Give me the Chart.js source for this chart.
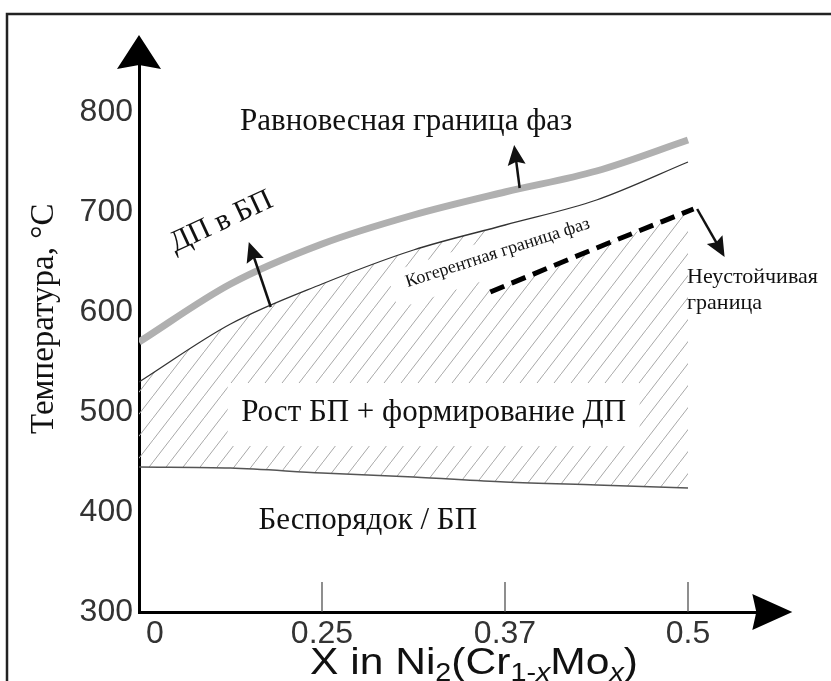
<!DOCTYPE html>
<html>
<head>
<meta charset="utf-8">
<script src="https://cdn.jsdelivr.net/npm/chart.js@4.4.0/dist/chart.umd.min.js"></script>
<style>
html, body { margin: 0; padding: 0; background: #fff; }
</style>
</head>
<body>
<canvas id="chart" width="831" height="681"></canvas>
<script>
// x values are tick positions: 0 -> "0", 1 -> "0.25", 2 -> "0.37", 3 -> "0.5"
var xTickLabels = ['0', '0.25', '0.37', '0.5'];
var yTicks = [300, 400, 500, 600, 700, 800];

var xGrid = [0, 0.5, 1, 1.5, 2, 2.5, 3];
var equilibrium = [570, 628, 668, 697, 720, 741, 772];
var coherent = [530, 588, 628, 662, 687, 712, 750];
var disorder = [445, 444, 439, 435, 430, 427, 424];

var spinodalX = [1.92, 2.5, 3.03];
var spinodal = [620, 664, 703];

// annotation arrows, [x0, y0, x1, y1] in data units
var arrows = [
  [0.72, 605, 0.6, 670],
  [2.08, 724, 2.05, 767],
  [3.05, 703, 3.2, 655]
];

var serif = 'Liberation Serif';
var sans = 'Liberation Sans';

function pts(xs, ys) {
  return ys.map(function(v, i) { return {x: xs[i], y: v}; });
}

function hatchPattern() {
  var c = document.createElement('canvas');
  c.width = 17; c.height = 22;
  var g = c.getContext('2d');
  g.strokeStyle = '#a8a8a8';
  g.lineWidth = 1;
  g.beginPath();
  g.moveTo(-1.7, 24.2);
  g.lineTo(18.7, -2.2);
  g.stroke();
  return g.createPattern(c, 'repeat');
}

function head(ctx, x0, y0, x1, y1, len, half, notch) {
  var a = Math.atan2(y1 - y0, x1 - x0);
  ctx.save();
  ctx.translate(x1, y1);
  ctx.rotate(a);
  ctx.beginPath();
  ctx.moveTo(0, 0);
  ctx.lineTo(-len, -half);
  ctx.lineTo(-len + notch, 0);
  ctx.lineTo(-len, half);
  ctx.closePath();
  ctx.fill();
  ctx.restore();
}

function px(chart, x, y) {
  return [chart.scales.x.getPixelForValue(x), chart.scales.y.getPixelForValue(y)];
}

function rotBox(ctx, cx, cy, ang, x0, y0, x1, y1) {
  ctx.save();
  ctx.translate(cx, cy);
  ctx.rotate(ang * Math.PI / 180);
  ctx.fillStyle = '#fff';
  ctx.fillRect(x0, y0, x1 - x0, y1 - y0);
  ctx.restore();
}

function text(ctx, str, cx, cy, size, ang, align, family) {
  ctx.save();
  ctx.translate(cx, cy);
  ctx.rotate((ang || 0) * Math.PI / 180);
  ctx.font = size + 'px "' + (family || serif) + '"';
  ctx.fillStyle = '#111';
  ctx.textAlign = align || 'center';
  ctx.textBaseline = 'middle';
  ctx.fillText(str, 0, 0);
  ctx.restore();
}

var decor = {
  id: 'decor',
  beforeDatasetDraw: function(chart, args) {
    if (args.index !== 1) return;
    var ctx = chart.ctx;
    var area = chart.chartArea;
    // clear hatch above the dashed boundary
    var d = chart.getDatasetMeta(3).data;
    ctx.save();
    ctx.fillStyle = '#fff';
    ctx.beginPath();
    ctx.moveTo(d[0].x, d[0].y);
    for (var i = 1; i < d.length; i++) ctx.lineTo(d[i].x, d[i].y);
    ctx.lineTo(d[d.length - 1].x + 4, area.top);
    ctx.lineTo(d[0].x, area.top);
    ctx.closePath();
    ctx.fill();
    ctx.restore();
    var p = px(chart, 1.96, 659);
    rotBox(ctx, p[0], p[1], -18, -112, -15, 104, 22);
    p = px(chart, 1.61, 499);
    rotBox(ctx, p[0], p[1], 0, -206, -30, 206, 33);
  },
  afterDraw: function(chart) {
    var ctx = chart.ctx;
    var area = chart.chartArea;
    var sx = chart.scales.x, sy = chart.scales.y;
    ctx.save();
    // frame
    ctx.strokeStyle = '#222';
    ctx.lineWidth = 2.5;
    ctx.strokeRect(7, 14, 900, 800);
    // axis arrows
    ctx.strokeStyle = '#000';
    ctx.fillStyle = '#000';
    ctx.lineWidth = 3;
    var yTip = sy.getPixelForValue(877);
    ctx.beginPath();
    ctx.moveTo(area.left, area.top + 2);
    ctx.lineTo(area.left, yTip + 20);
    ctx.stroke();
    head(ctx, area.left, area.bottom, area.left, yTip, 34, 22, 4);
    var xTip = sx.getPixelForValue(3.57);
    head(ctx, area.left, area.bottom, xTip, area.bottom, 40, 18, 4);
    // inner tick marks
    ctx.strokeStyle = '#444';
    ctx.lineWidth = 1.2;
    for (var i = 1; i < xTickLabels.length; i++) {
      var tx = sx.getPixelForValue(i);
      ctx.beginPath();
      ctx.moveTo(tx, area.bottom);
      ctx.lineTo(tx, area.bottom - 30);
      ctx.stroke();
    }
    // annotation arrows
    ctx.strokeStyle = '#111';
    ctx.fillStyle = '#111';
    ctx.lineWidth = 2.5;
    arrows.forEach(function(a) {
      var p0 = px(chart, a[0], a[1]), p1 = px(chart, a[2], a[3]);
      var ang = Math.atan2(p1[1] - p0[1], p1[0] - p0[0]);
      ctx.beginPath();
      ctx.moveTo(p0[0], p0[1]);
      ctx.lineTo(p1[0] - 14 * Math.cos(ang), p1[1] - 14 * Math.sin(ang));
      ctx.stroke();
      head(ctx, p0[0], p0[1], p1[0], p1[1], 20, 9, 3);
    });
    ctx.restore();

    // labels
    var p = px(chart, 1.46, 790);
    text(ctx, 'Равновесная граница фаз', p[0], p[1], 31);
    p = px(chart, 0.45, 690);
    text(ctx, 'ДП в БП', p[0], p[1], 30, -25);
    p = px(chart, 1.96, 659);
    text(ctx, 'Когерентная граница фаз', p[0], p[1], 18, -18);
    p = px(chart, 2.995, 635);
    text(ctx, 'Неустойчивая', p[0], p[1], 22, 0, 'left');
    p = px(chart, 2.995, 609);
    text(ctx, 'граница', p[0], p[1], 22, 0, 'left');
    p = px(chart, 1.61, 499);
    text(ctx, 'Рост БП + формирование ДП', p[0], p[1], 31);
    p = px(chart, 1.25, 391);
    text(ctx, 'Беспорядок / БП', p[0], p[1], 31);

    // x axis title with subscripts, slightly widened like the source
    var parts = [['X in Ni', 0], ['2', 1], ['(Cr', 0], ['1-', 1], ['x', 2], ['Mo', 0], ['x', 2], [')', 0]];
    var big = '37px "' + sans + '"', small = '25px "' + sans + '"', smallIt = 'italic 25px "' + sans + '"';
    var stretch = 1.15;
    ctx.save();
    ctx.fillStyle = '#111';
    ctx.textBaseline = 'alphabetic';
    var w = 0;
    parts.forEach(function(q) {
      ctx.font = q[1] === 0 ? big : (q[1] === 1 ? small : smallIt);
      w += ctx.measureText(q[0]).width;
    });
    ctx.translate(474 - w * stretch / 2, 674);
    ctx.scale(stretch, 1);
    var x = 0;
    parts.forEach(function(q) {
      ctx.font = q[1] === 0 ? big : (q[1] === 1 ? small : smallIt);
      ctx.fillText(q[0], x, q[1] === 0 ? 0 : 7);
      x += ctx.measureText(q[0]).width;
    });
    ctx.restore();
  }
};

var ctx = document.getElementById('chart').getContext('2d');
var chart = new Chart(ctx, {
  type: 'line',
  data: {
    datasets: [{
      label: 'Равновесная граница фаз',
      data: pts(xGrid, equilibrium),
      borderColor: '#b0b0b0',
      borderWidth: 7,
      borderCapStyle: 'butt',
      fill: false
    }, {
      label: 'Когерентная граница фаз',
      data: pts(xGrid, coherent),
      borderColor: '#333',
      borderWidth: 1.3,
      fill: false
    }, {
      label: 'Беспорядок / БП',
      data: pts(xGrid, disorder),
      borderColor: '#555',
      borderWidth: 1.5,
      fill: 1,
      backgroundColor: hatchPattern()
    }, {
      label: 'Неустойчивая граница',
      data: pts(spinodalX, spinodal),
      borderColor: '#000',
      borderWidth: 5,
      borderDash: [15, 8],
      fill: false,
      order: -1
    }]
  },
  options: {
    responsive: false,
    animation: false,
    layout: { padding: { top: 42, right: 51.5, left: 0, bottom: 0 } },
    elements: { point: { radius: 0 }, line: { cubicInterpolationMode: 'monotone' } },
    plugins: {
      legend: { display: false },
      tooltip: { enabled: false }
    },
    scales: {
      x: {
        type: 'linear',
        min: 0,
        max: 3.5,
        grid: { display: false, drawTicks: false },
        border: { display: true, color: '#000', width: 3 },
        afterBuildTicks: function(s) {
          s.ticks = xTickLabels.map(function(l, i) { return {value: i}; });
        },
        afterFit: function(s) { s.height = 69; },
        ticks: {
          padding: 3,
          color: '#333',
          autoSkip: false,
          maxRotation: 0,
          font: { family: sans, size: 32 },
          callback: function(v) {
            var l = xTickLabels[v];
            return v === 0 ? '\u2002\u2002' + l : l;
          }
        }
      },
      y: {
        min: 300,
        max: 870,
        grid: { display: false, drawTicks: false },
        border: { display: true, color: '#000', width: 3 },
        afterBuildTicks: function(s) {
          s.ticks = yTicks.map(function(v) { return {value: v}; });
        },
        afterFit: function(s) { s.width = 139; },
        ticks: {
          padding: 6,
          color: '#333',
          font: { family: sans, size: 32 }
        },
        title: {
          display: true,
          text: '\u2002Температура, °C',
          color: '#111',
          font: { family: serif, size: 33 },
          padding: { top: 25, bottom: 0 }
        }
      }
    }
  },
  plugins: [decor]
});
</script>
</body>
</html>
